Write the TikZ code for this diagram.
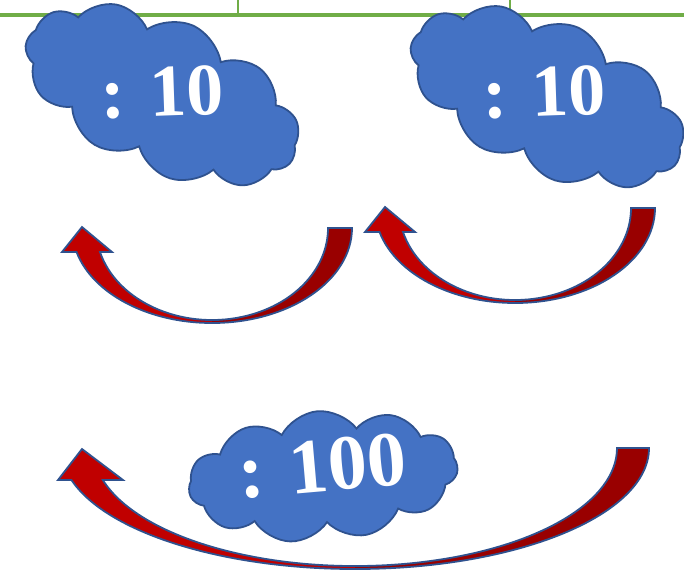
\documentclass[tikz,border=0pt]{standalone}
\usepackage{fontspec}
\setmainfont{Liberation Serif}
\usetikzlibrary{shapes.symbols,calc}
\definecolor{cloudblue}{HTML}{4472C4}
\definecolor{rimblue}{HTML}{2F528F}
\definecolor{arrowred}{HTML}{C00000}
\definecolor{arrowdark}{HTML}{990000}
\definecolor{linegreen}{HTML}{70AD47}

\begin{document}
\begin{tikzpicture}[x=1pt, y=-1pt,
    puff/.style={cloud, cloud puffs=11, cloud puff arc=115, cloud ignores aspect,
      draw=rimblue, line width=1.8pt, fill=cloudblue, inner sep=0pt},
    lbl/.style={text=white, inner sep=0pt, font=\fontsize{74}{74}\selectfont\bfseries},
    rim/.style={draw=rimblue, line width=1.8pt, line join=miter}]

   \clip (0,0) rectangle (684,571);

   % green lines at the top
   \draw[linegreen, line width=4pt] (0,15) -- (684,15);
   \foreach \x in {238, 510}
     \draw[linegreen, line width=1.5pt] (\x,0) -- (\x,15);

   % clouds
   \node[puff, minimum width=292pt, minimum height=152pt, rotate=-24] (c1) at (162,95) {};
   \node[puff, minimum width=292pt, minimum height=152pt, rotate=-24] (c2) at (547,97) {};
   \node[puff, minimum width=270pt, minimum height=130pt, rotate=5] (c3) at (323,476) {};

   \node[lbl, rotate=2] (t1) at (162,92) {: 10};
   \node[lbl, rotate=2] (t2) at (544,92) {: 10};
   \node[lbl, rotate=5, font=\fontsize{78}{78}\selectfont\bfseries] (t3) at (322,466) {: 100};

   % curved arrows: centre, outer radii, inner radii, head angles, head base y, head
   \foreach \cx/\cy/\ao/\bo/\ai/\bi/\to/\ti/\hy/\hl/\tx/\ty/\hr in
      {212/228/140/95/116/92/165.4/164.9/252/62/82/227/112,
       515/208/140/95/116/92/165.4/164.9/232/365/385/207/415,
       355/448/294/121/262/118/164.7/164.3/480/58/82/449/123}
   {
     \fill[arrowred] (\hl,\hy) -- (\tx,\ty) -- (\hr,\hy)
        -- ($(\cx,\cy)+({\ai*cos(\ti)},{\bi*sin(\ti)})$)
        arc[start angle=\ti, end angle=90, x radius=\ai, y radius=\bi]
        -- (\cx,\cy+\bo)
        arc[start angle=90, end angle=\to, x radius=\ao, y radius=\bo] -- cycle;
     \fill[arrowdark] (\cx,\cy+\bo)
        arc[start angle=90, end angle=0, x radius=\ao, y radius=\bo]
        -- (\cx+\ai,\cy)
        arc[start angle=0, end angle=90, x radius=\ai, y radius=\bi] -- cycle;
     \draw[rim] (\hl,\hy) -- (\tx,\ty) -- (\hr,\hy)
        -- ($(\cx,\cy)+({\ai*cos(\ti)},{\bi*sin(\ti)})$)
        arc[start angle=\ti, end angle=0, x radius=\ai, y radius=\bi]
        -- (\cx+\ao,\cy)
        arc[start angle=0, end angle=\to, x radius=\ao, y radius=\bo] -- cycle;
   }

\end{tikzpicture}
\end{document}
